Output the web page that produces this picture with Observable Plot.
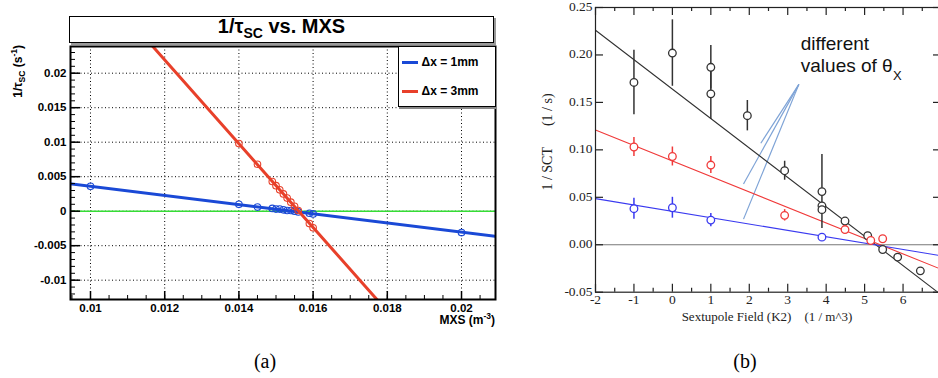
<!DOCTYPE html>
<html>
<head>
<meta charset="utf-8">
<script src="https://cdn.jsdelivr.net/npm/d3@7"></script>
<script src="https://cdn.jsdelivr.net/npm/@observablehq/plot@0.6"></script>
<style>
  html, body { margin:0; padding:0; background:#fff; overflow:hidden; }
  #wrap { position:relative; width:938px; height:378px; overflow:hidden; background:#fff; }
  .pane { position:absolute; top:0; }
  .pane svg { max-width:none !important; display:block; }
  .ov { position:absolute; white-space:nowrap; }
  .sans { font-family:"Liberation Sans", Arial, Helvetica, sans-serif; font-weight:bold; color:#000; }
  .serif { font-family:"Liberation Serif", "Times New Roman", serif; color:#222; }
  sub, sup { line-height:0; }
</style>
</head>
<body>
<div id="wrap">
  <div id="paneA" class="pane" style="left:0;width:500px;"></div>
  <div id="paneB" class="pane" style="left:540px;width:401px;"></div>

  <div class="ov sans" style="left:69px;top:16px;width:423px;height:25px;border:1px solid #000;box-shadow:2px 2px 0 #999;background:#fff;text-align:center;font-size:20px;line-height:18px;">1/τ<span style="font-size:14px;position:relative;top:5px">SC</span> vs. MXS</div>

  <div class="ov sans" style="left:398px;top:46px;width:96px;height:59px;border:1px solid #000;box-shadow:1px 2px 0 #888;background:#fff;font-size:12px;">
    <div style="position:absolute;left:3px;top:13.5px;width:16px;height:3px;background:#1a49d6"></div>
    <div style="position:absolute;left:22.5px;top:8px;line-height:14px">Δx = 1mm</div>
    <div style="position:absolute;left:3px;top:42.5px;width:16px;height:3px;background:#e8402a"></div>
    <div style="position:absolute;left:22.5px;top:37px;line-height:14px">Δx = 3mm</div>
  </div>

  <div class="ov sans" style="left:18px;top:45px;font-size:12px;transform-origin:0 0;transform:rotate(-90deg) translate(-100%,-50%);">1/τ<sub style="font-size:8.5px">SC</sub> (s<sup style="font-size:8.5px">-1</sup>)</div>
  <div class="ov sans" style="right:443px;top:313px;font-size:12px;line-height:14px;">MXS (m<sup style="font-size:8.5px">-3</sup>)</div>

  <div class="ov serif" style="left:548px;top:142px;font-size:14px;transform-origin:0 0;transform:rotate(-90deg) translate(-50%,-50%);">1 / SCT&nbsp;&nbsp;&nbsp;&nbsp;&nbsp; (1 / s)</div>
  <div class="ov serif" style="left:617px;width:300px;text-align:center;top:309px;font-size:13px;line-height:16px;">Sextupole Field (K2)&nbsp;&nbsp;&nbsp; (1 / m^3)</div>

  <div class="ov serif" style="left:235px;width:60px;text-align:center;top:350px;font-size:20px;line-height:22px;color:#000">(a)</div>
  <div class="ov serif" style="left:715px;width:60px;text-align:center;top:350px;font-size:20px;line-height:22px;color:#000">(b)</div>
</div>
<script>
// ---------- Panel (a): 1/tau_SC vs MXS ----------
const mxs1mm  = [0.010, 0.014, 0.0145, 0.0149, 0.0150, 0.0151, 0.0152, 0.0153, 0.0154, 0.0155, 0.0156, 0.0159, 0.0160, 0.020];
const rate1mm = [0.0036, 0.0010, 0.0006, 0.0004, 0.0003, 0.0003, 0.0002, 0.0001, 0.0001, 0.0000, -0.0001, -0.0003, -0.0004, -0.0031];
const mxs3mm  = [0.014, 0.0145, 0.0149, 0.0150, 0.0151, 0.0152, 0.0153, 0.0154, 0.0155, 0.0156, 0.0159, 0.0160];
const rate3mm = [0.0098, 0.0068, 0.0043, 0.0037, 0.0031, 0.0025, 0.0019, 0.0013, 0.0007, 0.0001, -0.0018, -0.0024];
const fit1mmX = [0.0094, 0.0210];
const fit1mmY = [0.0040, -0.0037];
const fit3mmX = [0.0110, 0.0180];
const fit3mmY = [0.0280, -0.0145];
const xTicksA = [0.010, 0.012, 0.014, 0.016, 0.018, 0.020];
const yTicksA = [-0.01, -0.005, 0, 0.005, 0.01, 0.015, 0.02];

// ---------- Panel (b): 1/SCT vs sextupole field ----------
const k2Black   = [-1, 0, 1, 1, 1.95, 2.92, 3.89, 3.89, 3.89, 4.49, 5.08, 5.47, 5.86, 6.45];
const rateBlack = [0.171, 0.202, 0.187, 0.159, 0.136, 0.078, 0.056, 0.041, 0.037, 0.025, 0.0095, -0.005, -0.013, -0.0275];
const errBlack  = [0.034, 0.035, 0.023, 0.027, 0.016, 0.010, 0.039, 0, 0, 0, 0, 0, 0, 0];
const k2Red     = [-1, 0, 1, 2.92, 4.49, 5.16, 5.47];
const rateRed   = [0.103, 0.093, 0.084, 0.031, 0.016, 0.0045, 0.0063];
const errRed    = [0.010, 0.010, 0.009, 0.006, 0, 0, 0];
const k2Blue    = [-1, 0, 1, 3.89];
const rateBlue  = [0.038, 0.039, 0.026, 0.008];
const errBlue   = [0.011, 0.011, 0.007, 0];
const fitX      = [-2, 7];
const fitBlack  = [0.226, -0.053];
const fitRed    = [0.121, -0.026];
const fitBlue   = [0.0486, -0.0117];
const xTicksB   = [-2, -1, 0, 1, 2, 3, 4, 5, 6, 7];
const xLabelsB  = [-2, -1, 0, 1, 2, 3, 4, 5, 6];
const yTicksB   = [-0.05, 0, 0.05, 0.10, 0.15, 0.20, 0.25];
const annoApex  = {x: 3.29, y: 0.169};
const annoEndX  = [2.30, 1.85, 1.85];
const annoEndY  = [0.107, 0.064, 0.027];
const annoText  = ["different", "values of θ"];
const annoTextY = [0.2116, 0.1884];

// ---------- build (a) ----------
const zip = (xs, ys) => xs.map((x, i) => ({x, y: ys[i]}));
const blueA = "#1a49d6", redA = "#e8402a", greenA = "#35dd35";
const A = {w: 500, h: 335, mt: 46, mr: 5, mb: 36, ml: 70};
const pwA = A.w - A.ml - A.mr, phA = A.h - A.mt - A.mb;
const xMinorA = d3.range(0.0095, 0.0209, 0.0005);
const yMinorA = d3.range(-0.012, 0.0235, 0.001);

const plotA = Plot.plot({
  width: A.w, height: A.h, marginTop: A.mt, marginRight: A.mr, marginBottom: A.mb, marginLeft: A.ml,
  x: {domain: [0.009461, 0.020916], axis: null},
  y: {domain: [-0.0128, 0.02387], axis: null},
  style: {fontFamily: "'Liberation Sans', Arial, sans-serif", fontWeight: "bold", fontSize: "11.5px", color: "#000", background: "transparent", overflow: "visible"},
  marks: [
    Plot.ruleX(xTicksA, {x: d => d, stroke: "#000", strokeDasharray: "1,2.5", strokeWidth: 1}),
    Plot.ruleY(yTicksA, {y: d => d, stroke: "#000", strokeDasharray: "1,2.5", strokeWidth: 1}),
    Plot.ruleY([0], {stroke: greenA, strokeWidth: 1.6}),
    Plot.line(zip(fit1mmX, fit1mmY), {x: "x", y: "y", stroke: blueA, strokeWidth: 3, clip: true}),
    Plot.dot(zip(mxs1mm, rate1mm), {x: "x", y: "y", r: 3.3, stroke: blueA, strokeWidth: 1.1}),
    Plot.line(zip(fit3mmX, fit3mmY), {x: "x", y: "y", stroke: redA, strokeWidth: 3, clip: true}),
    Plot.dot(zip(mxs3mm, rate3mm), {x: "x", y: "y", r: 3.3, stroke: redA, strokeWidth: 1.1}),
    Plot.frame({stroke: "#000", strokeWidth: 2}),
    Plot.ruleX(xMinorA, {x: d => d, insetTop: phA - 4, stroke: "#000", strokeWidth: 1}),
    Plot.ruleX(xTicksA, {x: d => d, insetTop: phA - 8, stroke: "#000", strokeWidth: 1.5}),
    Plot.ruleY(yMinorA, {y: d => d, insetRight: pwA - 5, stroke: "#000", strokeWidth: 1}),
    Plot.ruleY(yTicksA, {y: d => d, insetRight: pwA - 10, stroke: "#000", strokeWidth: 1.5}),
    Plot.text(xTicksA, {x: d => d, frameAnchor: "bottom", lineAnchor: "top", dy: 4, text: d => String(d)}),
    Plot.text(yTicksA, {y: d => d, frameAnchor: "left", textAnchor: "end", dx: -4, text: d => String(d)})
  ]
});
document.getElementById("paneA").appendChild(plotA);

// ---------- build (b) ----------
const blackB = "#333", redB = "#f03a3a", blueB = "#3a3af0", annoC = "#7ea3d6";
const B = {w: 401, h: 335, mt: 7, mr: 0, mb: 43.3, ml: 55};
const pwB = B.w - B.ml - B.mr, phB = B.h - B.mt - B.mb;
const xMinorB = d3.range(-1.5, 7, 1);
const pts = (xs, ys, es) => xs.map((x, i) => ({x, y: ys[i], e: es[i]}));
const ptsBlack = pts(k2Black, rateBlack, errBlack);
const ptsRed = pts(k2Red, rateRed, errRed);
const ptsBlue = pts(k2Blue, rateBlue, errBlue);
const bars = arr => arr.filter(d => d.e > 0);

const plotB = Plot.plot({
  width: B.w, height: B.h, marginTop: B.mt, marginRight: B.mr, marginBottom: B.mb, marginLeft: B.ml,
  x: {domain: [-2, 7], axis: null},
  y: {domain: [-0.05, 0.25], axis: null},
  style: {fontFamily: "'Liberation Serif', 'Times New Roman', serif", fontSize: "13.5px", color: "#222", background: "transparent", overflow: "visible"},
  marks: [
    Plot.ruleY([0], {stroke: "#777", strokeWidth: 1}),
    Plot.link(annoEndX.map((x, i) => ({x, y: annoEndY[i]})), {x1: () => annoApex.x, y1: () => annoApex.y, x2: "x", y2: "y", stroke: annoC, strokeWidth: 1.2}),
    Plot.line(zip(fitX, fitBlack), {x: "x", y: "y", stroke: blackB, strokeWidth: 1.1, clip: true}),
    Plot.line(zip(fitX, fitRed), {x: "x", y: "y", stroke: redB, strokeWidth: 1.1, clip: true}),
    Plot.line(zip(fitX, fitBlue), {x: "x", y: "y", stroke: blueB, strokeWidth: 1.1, clip: true}),
    Plot.ruleX(bars(ptsBlack), {x: "x", y1: d => d.y - d.e, y2: d => d.y + d.e, stroke: blackB, strokeWidth: 1.5}),
    Plot.ruleX(bars(ptsRed), {x: "x", y1: d => d.y - d.e, y2: d => d.y + d.e, stroke: redB, strokeWidth: 1.5}),
    Plot.ruleX(bars(ptsBlue), {x: "x", y1: d => d.y - d.e, y2: d => d.y + d.e, stroke: blueB, strokeWidth: 1.5}),
    Plot.dot(ptsBlack, {x: "x", y: "y", r: 3.8, stroke: blackB, fill: "white", strokeWidth: 1.3}),
    Plot.dot(ptsRed, {x: "x", y: "y", r: 3.8, stroke: redB, fill: "white", strokeWidth: 1.3}),
    Plot.dot(ptsBlue, {x: "x", y: "y", r: 3.8, stroke: blueB, fill: "white", strokeWidth: 1.3}),
    Plot.frame({stroke: "#222", strokeWidth: 1.2}),
    Plot.ruleX(xTicksB, {x: d => d, insetTop: phB - 8, stroke: "#222", strokeWidth: 1.2}),
    Plot.ruleX(xMinorB, {x: d => d, insetTop: phB - 4, stroke: "#222", strokeWidth: 1.2}),
    Plot.ruleX(xTicksB, {x: d => d, insetBottom: phB - 8, stroke: "#222", strokeWidth: 1.2}),
    Plot.ruleX(xMinorB, {x: d => d, insetBottom: phB - 4, stroke: "#222", strokeWidth: 1.2}),
    Plot.ruleY(yTicksB, {y: d => d, insetRight: pwB - 8, stroke: "#222", strokeWidth: 1.2}),
    Plot.ruleY(yTicksB, {y: d => d, insetLeft: pwB - 8, stroke: "#222", strokeWidth: 1.2}),
    Plot.text(xLabelsB, {x: d => d, frameAnchor: "bottom", lineAnchor: "top", dy: 2.5, text: d => String(d)}),
    Plot.text(yTicksB, {y: d => d, frameAnchor: "left", textAnchor: "end", dx: -3, dy: -1, text: d => d.toFixed(2)}),
    Plot.text(annoText, {x: () => 3.34, y: (d, i) => annoTextY[i], text: d => d, textAnchor: "start", fontFamily: "'Liberation Sans', Arial, sans-serif", fontSize: 19, fill: "#111"}),
    Plot.text(["X"], {x: () => 5.74, y: () => 0.178, text: d => d, textAnchor: "start", fontFamily: "'Liberation Sans', Arial, sans-serif", fontSize: 13, fill: "#111"})
  ]
});
document.getElementById("paneB").appendChild(plotB);
</script>
</body>
</html>
